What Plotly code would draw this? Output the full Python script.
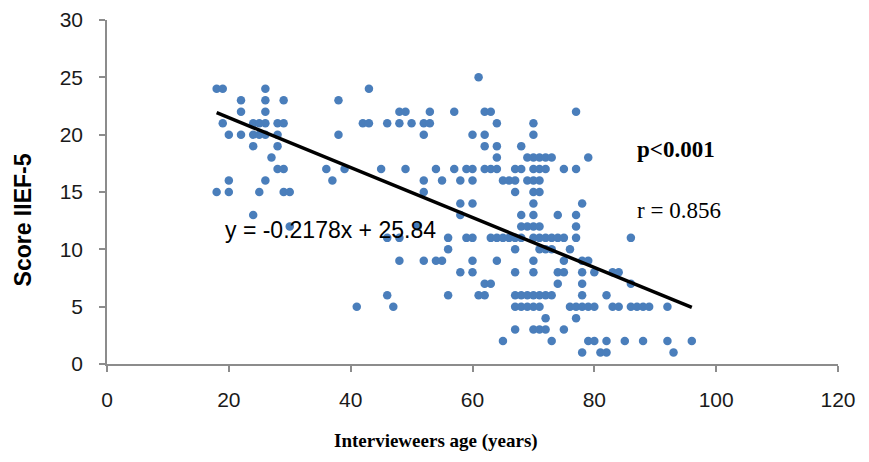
import plotly.graph_objects as go

# Ages (x) and IIEF-5 scores (y)
ages = [
    18, 19, 26, 22, 26, 29, 22, 26,
    19, 24, 25, 26, 28, 29,
    20, 22, 24, 25, 26, 28,
    24, 28, 27, 28, 29, 20, 26,
    18, 20, 25, 29, 30, 24, 30,
    61, 43, 38,
    48, 49, 53, 57, 62, 63,
    42, 43, 46, 48, 50, 52, 53, 64,
    38, 52, 60, 62, 62, 64, 64,
    36, 39, 45, 49, 54, 57, 59, 60, 62, 63, 64, 67,
    37, 52, 55, 58, 60, 65, 66, 67,
    52, 67, 58, 60, 58,
    77, 70, 70, 68,
    69, 70, 71, 72, 73, 79,
    68, 70, 71, 72, 75, 77,
    69, 70, 71, 70, 71, 70, 78,
    68, 70, 74, 77,
    51,
    46, 48, 56, 59, 60, 63, 64, 65, 66, 67,
    56, 67,
    48, 52, 54, 55, 60, 64,
    58, 60, 67, 62, 63,
    46, 56, 61, 62, 67,
    41, 47, 67, 67, 65,
    68, 69, 70, 71, 77,
    68, 70, 71, 72, 73, 74, 75, 77, 86,
    71, 72, 73, 76,
    70, 75, 78, 79,
    70, 74, 75, 78, 80, 83, 84,
    74, 78, 86,
    68, 69, 70, 71, 72, 73, 78, 82,
    68, 69, 70, 71, 76, 77, 78, 79, 80, 83, 84, 86, 87, 88, 89, 92,
    72, 77,
    70, 71, 72, 75,
    73, 79, 80, 82, 85, 88, 92, 96,
    78, 81, 82, 93,
]
scores = [
    24, 24, 24, 23, 23, 23, 22, 22,
    21, 21, 21, 21, 21, 21,
    20, 20, 20, 20, 20, 20,
    19, 19, 18, 17, 17, 16, 16,
    15, 15, 15, 15, 15, 13, 12,
    25, 24, 23,
    22, 22, 22, 22, 22, 22,
    21, 21, 21, 21, 21, 21, 21, 21,
    20, 20, 20, 20, 19, 19, 18,
    17, 17, 17, 17, 17, 17, 17, 17, 17, 17, 17, 17,
    16, 16, 16, 16, 16, 16, 16, 16,
    15, 15, 14, 14, 13,
    22, 21, 20, 19,
    18, 18, 18, 18, 18, 18,
    17, 17, 17, 17, 17, 17,
    16, 16, 16, 15, 15, 14, 14,
    13, 13, 13, 13,
    12,
    11, 11, 11, 11, 11, 11, 11, 11, 11, 11,
    10, 10,
    9, 9, 9, 9, 9, 9,
    8, 8, 8, 7, 7,
    6, 6, 6, 6, 6,
    5, 5, 5, 3, 2,
    12, 12, 12, 12, 12,
    11, 11, 11, 11, 11, 11, 11, 11, 11,
    10, 10, 10, 10,
    9, 9, 9, 9,
    8, 8, 8, 8, 8, 8, 8,
    7, 7, 7,
    6, 6, 6, 6, 6, 6, 6, 6,
    5, 5, 5, 5, 5, 5, 5, 5, 5, 5, 5, 5, 5, 5, 5, 5,
    4, 4,
    3, 3, 3, 3,
    2, 2, 2, 2, 2, 2, 2, 2,
    1, 1, 1, 1,
]

# Linear trend reported on the chart
slope = -0.2178
intercept = 25.84
trend_x = [18, 96]
trend_y = [slope * v + intercept for v in trend_x]

x_ticks = [0, 20, 40, 60, 80, 100, 120]
y_ticks = [0, 5, 10, 15, 20, 25, 30]

fig = go.Figure()
fig.add_trace(go.Scatter(
    x=ages, y=scores, mode="markers",
    marker=dict(size=8.5, color="#4A7EBB", line=dict(width=0)),
    showlegend=False, hoverinfo="x+y",
))
fig.add_trace(go.Scatter(
    x=trend_x, y=trend_y, mode="lines",
    line=dict(color="black", width=3.5),
    showlegend=False, hoverinfo="skip",
))

axis_common = dict(
    showgrid=False, zeroline=False, showline=True, linecolor="#8c8c8c", linewidth=1.5,
    ticks="outside", ticklen=6, tickcolor="#8c8c8c", tickwidth=1.5, automargin=False,
    tickfont=dict(family="Liberation Sans, Arial", size=21, color="#1a1a1a"),
)

fig.update_layout(
    width=869, height=462,
    margin=dict(l=107, r=31, t=20, b=98),
    paper_bgcolor="white", plot_bgcolor="white",
    xaxis=dict(range=[0, 120], tickvals=x_ticks, ticklabelstandoff=10, **axis_common),
    yaxis=dict(range=[0, 30], tickvals=y_ticks, ticklabelstandoff=12, **axis_common),
    annotations=[
        dict(text="Score IIEF-5", xref="paper", yref="paper", x=-0.115, y=0.42,
             textangle=-90, showarrow=False, xanchor="center", yanchor="middle",
             font=dict(family="Liberation Sans, Arial", size=23, color="black", weight="bold")),
        dict(text="Intervieweers age (years)", xref="paper", yref="paper", x=0.45, y=-0.225,
             showarrow=False, xanchor="center", yanchor="middle",
             font=dict(family="Liberation Serif, Times New Roman", size=19, color="black", weight="bold")),
        dict(text="y = -0.2178x + 25.84", xref="x", yref="y", x=19.1, y=11.7,
             showarrow=False, xanchor="left", yanchor="middle",
             font=dict(family="Liberation Sans, Arial", size=23, color="black")),
        dict(text="<b>p<0.001</b>", xref="x", yref="y", x=86.7, y=18.7,
             showarrow=False, xanchor="left", yanchor="middle",
             font=dict(family="Liberation Serif, Times New Roman", size=23, color="black")),
        dict(text="r = 0.856", xref="x", yref="y", x=86.7, y=13.4,
             showarrow=False, xanchor="left", yanchor="middle",
             font=dict(family="Liberation Serif, Times New Roman", size=23, color="black")),
    ],
)

fig.write_html(
    "out.html",
    config={"displayModeBar": False},
    post_script="document.body.style.margin='0';document.body.style.overflow='hidden';",
)
